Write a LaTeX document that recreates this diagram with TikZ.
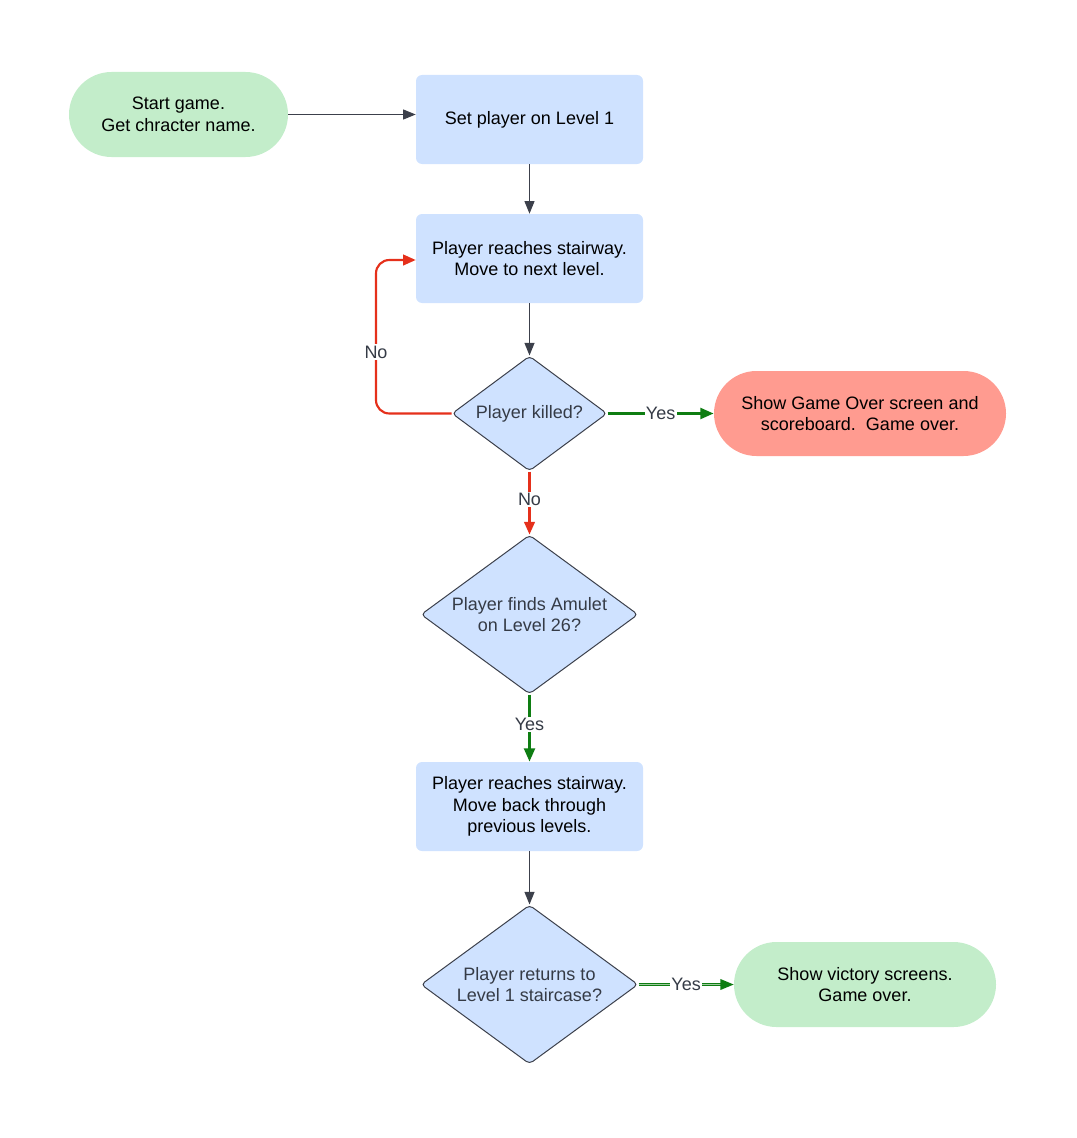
\documentclass[tikz,border=0pt]{standalone}
\usepackage{fontspec}
\setmainfont{Liberation Sans}
\usetikzlibrary{shapes.geometric,shapes.misc,arrows.meta}
\definecolor{boxblue}{HTML}{CFE2FF}
\definecolor{termgreen}{HTML}{C3EDCA}
\definecolor{termred}{HTML}{FF9B90}
\definecolor{linegray}{HTML}{3C404B}
\definecolor{linered}{HTML}{E5301B}
\definecolor{linegreen}{HTML}{0E7D12}
\definecolor{txtgray}{HTML}{353B46}
\tikzset{
  every node/.style={font=\fontsize{13.5pt}{16.3pt}\selectfont, align=center},
  procbox/.style={rectangle, rounded corners=4.5pt, fill=boxblue, minimum width=170.25pt, minimum height=66.75pt, inner sep=0pt},
  terminal/.style={rounded rectangle, minimum height=63.75pt, inner sep=0pt},
  decision/.style={diamond, draw=linegray, line width=0.75pt, fill=boxblue, rounded corners=3pt, text=txtgray, inner sep=-4pt},
  grayarrow/.style={draw=linegray, line width=0.9pt, -{Triangle[length=9.5pt,width=7.5pt]}},
  redarrow/.style={draw=linered, line width=1.6pt, -{Triangle[length=9.5pt,width=8pt]}},
  greenarrow/.style={draw=linegreen, line width=2.2pt, -{Triangle[length=10pt,width=8pt]}},
  lbl/.style={fill=white, text=txtgray, inner sep=1pt}
}
\begin{document}
\begin{tikzpicture}[x=0.75pt,y=-0.75pt]
\useasboundingbox (0,0) rectangle (1076,1138);
\node[terminal, fill=termgreen, minimum width=164.25pt] (start) at (178.5,114.5) {Start game.\\Get chracter name.};
\node[procbox] (set) at (529.5,119.5) {Set player on Level 1};
\node[procbox] (reach) at (529.5,258.5) {Player reaches stairway.\\Move to next level.};
\node[decision, minimum width=116.25pt, minimum height=86.25pt, aspect=1.35] (killed) at (529.5,413.5) {Player killed?};
\node[terminal, fill=termred, minimum width=219pt] (over) at (860,413.5) {Show Game Over screen and\\scoreboard.\ \ Game over.};
\node[decision, minimum width=162.75pt, minimum height=119.25pt, aspect=1.36] (amulet) at (529.5,614.5) {Player finds Amulet\\on Level 26?};
\node[procbox] (back) at (529.5,806.5) {Player reaches stairway.\\Move back through\\previous levels.};
\node[decision, minimum width=162.75pt, minimum height=119.25pt, aspect=1.36] (returns) at (529.5,984.5) {Player returns to\\Level 1 staircase?};
\node[terminal, fill=termgreen, minimum width=196.5pt] (victory) at (865,984.5) {Show victory screens.\\Game over.};
\coordinate (looptop) at (376,260);
\draw[grayarrow] (start.east) -- (set.west |- start.east);
\draw[grayarrow] (set) -- (reach);
\draw[grayarrow] (reach) -- (killed);
\draw[redarrow, rounded corners=10pt] (killed.west) -- (killed.west -| looptop) -- (looptop) -- (reach.west |- looptop);
\node[lbl] (no1) at (376,352) {No};
\draw[greenarrow] (killed.east) -- node[lbl, pos=0.5] (yes1) {Yes} (over.west);
\draw[redarrow] (killed.south) -- node[lbl, pos=0.45] (no2) {No} (amulet.north);
\draw[greenarrow] (amulet.south) -- node[lbl, pos=0.45] (yes2) {Yes} (back.north);
\draw[grayarrow] (back) -- (returns);
\draw[draw=linegreen, double=linegreen!40!white, double distance=0.9pt, line width=1pt, -{Triangle[length=10pt,width=8pt,fill=linegreen]}] (returns.east) -- node[lbl, pos=0.5] (yes3) {Yes} (victory.west);
\end{tikzpicture}
\end{document}
